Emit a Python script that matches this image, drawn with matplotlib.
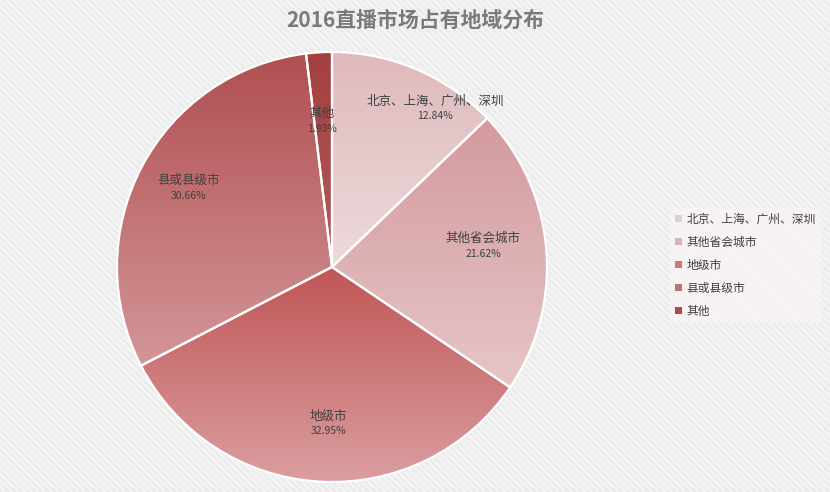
import numpy as np
import matplotlib.pyplot as plt
from matplotlib.patches import Rectangle, Patch

plt.rcParams['font.family'] = ['Noto Sans CJK SC', 'DejaVu Sans']

# data
regions = ['北京、上海、广州、深圳', '其他省会城市', '地级市', '县或县级市', '其他']
shares = [12.84, 21.62, 32.95, 30.66, 1.93]

# gradient colours per slice (top -> bottom)
top_colors = ['#dfb9bc', '#d39a9d', '#c05656', '#b04f51', '#a43f40']
bottom_colors = ['#eddadb', '#e6c6c8', '#db9ea0', '#d49698', '#b25a5b']
legend_colors = ['#e6ccce', '#ddb2b4', '#c97778', '#c47072', '#a94a4b']

# label placement (radius, angle shift in degrees)
label_r = [0.88, 0.71, 0.73, 0.76, 0.68]
label_shift = [-10, 3, 2, -1, 0.5]

fig = plt.figure(figsize=(8.3, 4.92), dpi=100)
fig.patch.set_facecolor('#efefef')
fig.patches.append(Rectangle((0, 0), 1, 1, transform=fig.transFigure,
                             facecolor='#ececec', edgecolor='#f8f8f8',
                             hatch='\\\\\\\\\\', linewidth=0, zorder=-10))

ax = fig.add_axes([117 / 830, 10 / 492, 430 / 830, 430 / 492])
ax.set_facecolor('none')

wedges, _ = ax.pie(shares, startangle=90, counterclock=False, radius=1,
                   wedgeprops=dict(edgecolor='white', linewidth=1.6,
                                   facecolor='none'))

for i, w in enumerate(wedges):
    w.set_zorder(3)
    ext = w.get_path().get_extents(w.get_transform() + ax.transData.inverted())
    c0 = np.array(plt.matplotlib.colors.to_rgb(top_colors[i]))
    c1 = np.array(plt.matplotlib.colors.to_rgb(bottom_colors[i]))
    t = np.linspace(0, 1, 200)[:, None]
    grad = (c0 * (1 - t) + c1 * t)[:, None, :]
    im = ax.imshow(grad, extent=[ext.x0, ext.x1, ext.y0, ext.y1],
                   origin='upper', aspect='auto', zorder=2, interpolation='bilinear')
    im.set_clip_path(w)

    mid = np.deg2rad((w.theta1 + w.theta2) / 2 + label_shift[i])
    x, y = label_r[i] * np.cos(mid), label_r[i] * np.sin(mid)
    ax.text(x, y + 0.035, regions[i], ha='center', va='center',
            fontsize=9, color='#404040', zorder=5)
    ax.text(x, y - 0.035, f'{shares[i]:.2f}%', ha='center', va='center',
            fontsize=7.5, color='#404040', zorder=5)

ax.set_xlim(-1, 1)
ax.set_ylim(-1, 1)
ax.set_aspect('equal')
ax.axis('off')

fig.text(0.5, 0.958, '2016直播市场占有地域分布', ha='center', va='center',
         fontsize=15, fontweight='bold', color='#7a7a7a')

handles = [Patch(facecolor=c, edgecolor='none') for c in legend_colors]
leg = fig.legend(handles, regions, loc='upper left',
                 bbox_to_anchor=(670 / 830, 1 - 208 / 492),
                 frameon=True, fontsize=8.5, handlelength=0.6, handleheight=0.6,
                 handletextpad=0.4, labelspacing=0.85, borderpad=0.4,
                 borderaxespad=0)
leg.get_frame().set_facecolor('#f9f3f4')
leg.get_frame().set_edgecolor('none')
for t in leg.get_texts():
    t.set_color('#404040')

fig.savefig('out.png', dpi=100, facecolor=fig.get_facecolor())
